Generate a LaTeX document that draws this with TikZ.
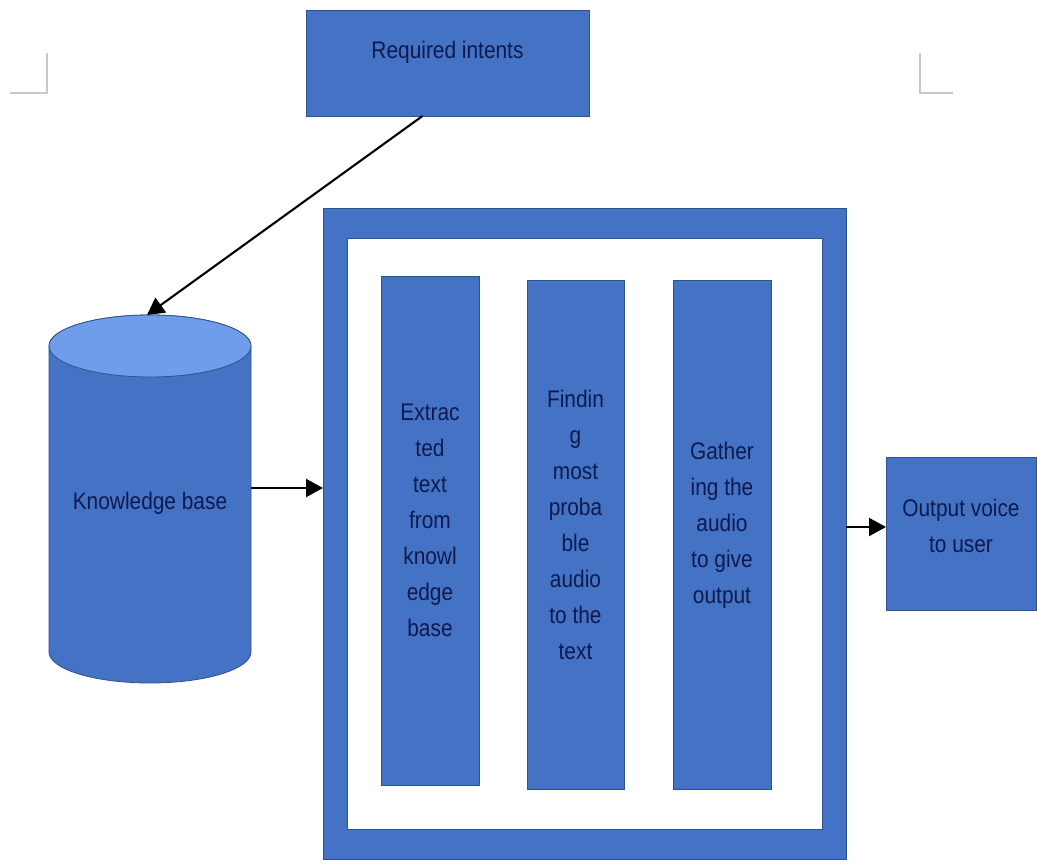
\documentclass[tikz,border=0pt]{standalone}
\usepackage{fontspec}
\setmainfont{Liberation Sans}[FakeStretch=0.87]
\usetikzlibrary{arrows.meta,calc}
\definecolor{boxblue}{HTML}{4472C4}
\definecolor{edgeblue}{HTML}{2F528F}
\definecolor{topblue}{HTML}{6D9DEB}
\definecolor{inkblue}{HTML}{0E1A4E}
\definecolor{cropgray}{HTML}{C8C8C8}

\begin{document}
\begin{tikzpicture}[x=1pt,y=-1pt,
  blockbox/.style={rectangle, draw=edgeblue, line width=0.8pt, fill=boxblue, inner sep=0pt, outer sep=0pt},
  lbl/.style={text=inkblue, font=\fontsize{24}{36}\selectfont, align=center, inner sep=0pt},
  arr/.style={draw=black, line width=2.1pt, -{Triangle[length=17pt,width=18pt]}},
  crop/.style={draw=cropgray, line width=1.5pt}]
\useasboundingbox[fill=white] (0,0) rectangle (1037,867);

% page corner marks
\draw[crop] (10,93) -- (47,93) -- (47,53);
\draw[crop] (920,53) -- (920,93) -- (953,93);

% top input block
\node[blockbox, minimum width=283pt, minimum height=106pt] (req) at (447.5,63) {};
\node[lbl] at ([yshift=11pt]req.center) {Required intents};

% knowledge base cylinder
\path[fill=boxblue, draw=edgeblue, line width=0.8pt]
  (49,346) -- (49,652)
  arc[start angle=180, end angle=360, x radius=101pt, y radius=31pt]
  -- (251,346)
  arc[start angle=0, end angle=180, x radius=101pt, y radius=31pt] -- cycle;
\path[fill=topblue, draw=edgeblue, line width=0.8pt]
  (150,346) ellipse [x radius=101pt, y radius=31pt];
\node[rectangle, inner sep=0pt, outer sep=0pt, minimum width=202pt, minimum height=368pt] (kb) at (150,499) {};
\node[lbl] at ([yshift=-4pt]kb.center) {Knowledge base};

% processing frame
\node[blockbox, minimum width=523pt, minimum height=651pt] (frame) at (584.5,533.5) {};
\draw[fill=white, draw=edgeblue, line width=0.8pt]
  ([shift={(24pt,-30pt)}]frame.north west) rectangle ([shift={(-24pt,30pt)}]frame.south east);

% processing steps
\node[blockbox, minimum width=98pt, minimum height=509pt] (c1) at (430,530.5) {};
\node[blockbox, minimum width=97pt, minimum height=509pt] (c2) at (575.5,534.5) {};
\node[blockbox, minimum width=98pt, minimum height=509pt] (c3) at (722,534.5) {};
\node[lbl] at ([yshift=10pt]c1.center) {Extrac\\ted\\text\\from\\knowl\\edge\\base};
\node[lbl] at ([yshift=10pt]c2.center) {Findin\\g\\most\\proba\\ble\\audio\\to the\\text};
\node[lbl] at ([yshift=9pt]c3.center) {Gather\\ing the\\audio\\to give\\output};

% output block
\node[blockbox, minimum width=150pt, minimum height=153pt] (out) at (961,533.5) {};
\node[lbl] at ([yshift=8pt]out.center) {Output voice\\to user};

% connectors
\coordinate (kbout) at ([yshift=11pt]kb.east);
\coordinate (outin) at ([yshift=6.5pt]out.west);
\draw[arr] ([xshift=-25pt]req.south) -- ([xshift=-3pt]kb.north);
\draw[arr] (kbout) -- (kbout -| frame.west);
\draw[arr] (outin -| frame.east) -- (outin);
\end{tikzpicture}
\end{document}
